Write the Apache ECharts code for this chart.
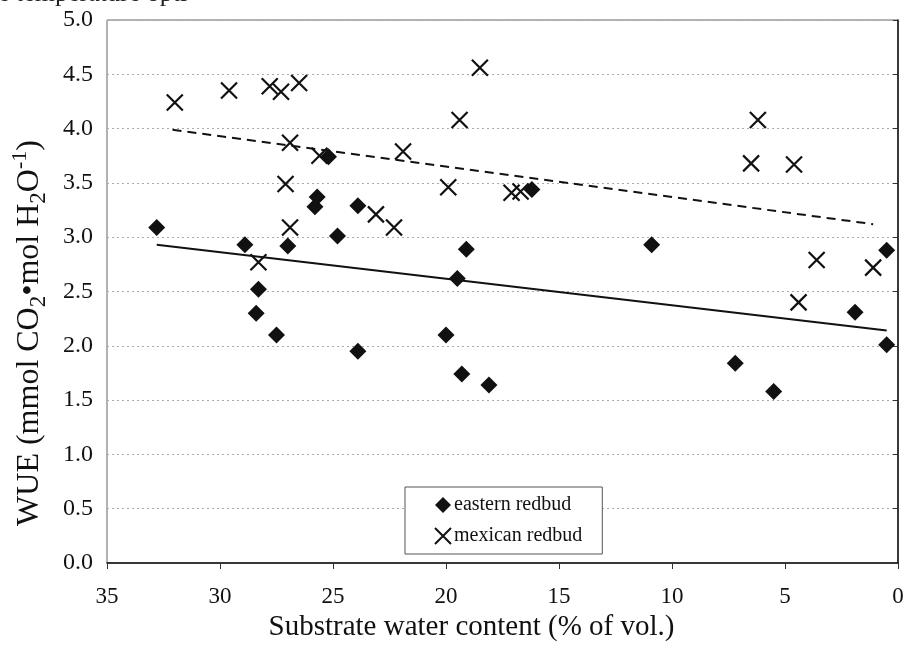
<!DOCTYPE html>
<html>
<head>
<meta charset="utf-8">
<script src="https://cdn.jsdelivr.net/npm/echarts@6/dist/echarts.min.js"></script>
<style>
  html, body { margin: 0; padding: 0; background: #fff; }
  #chart { width: 909px; height: 646px; }
</style>
</head>
<body>
<div id="chart"></div>
<script>
// eastern redbud: [water content, WUE]
const easternData = [
  [32.8, 3.09], [28.9, 2.93], [28.3, 2.52], [28.4, 2.30], [27.5, 2.10],
  [27.0, 2.92], [25.8, 3.28], [25.7, 3.37], [25.2, 3.74], [24.8, 3.01],
  [23.9, 3.29], [23.9, 1.95], [19.5, 2.62], [19.1, 2.89], [20.0, 2.10],
  [19.3, 1.74], [18.1, 1.64], [16.2, 3.44], [10.9, 2.93], [7.2, 1.84],
  [5.5, 1.58], [1.9, 2.31], [0.5, 2.01], [0.5, 2.88]
];
// mexican redbud
const mexicanData = [
  [32.0, 4.24], [29.6, 4.35], [27.8, 4.39], [27.3, 4.34], [26.5, 4.42],
  [26.9, 3.87], [27.1, 3.49], [26.9, 3.09], [28.3, 2.77], [25.6, 3.75],
  [23.1, 3.21], [22.3, 3.09], [21.9, 3.79], [19.9, 3.46], [19.4, 4.08],
  [18.5, 4.56], [17.1, 3.41], [16.7, 3.42], [6.5, 3.68], [6.2, 4.08],
  [4.6, 3.67], [3.6, 2.79], [4.4, 2.40], [1.1, 2.72]
];
// trend lines (end points)
const easternTrend = [[32.8, 2.93], [0.5, 2.14]];
const mexicanTrend = [[32.1, 3.99], [1.1, 3.12]];

const serif = '"Liberation Serif", "DejaVu Serif", serif';
const crossPath = 'path://M0,0L10,10M10,0L0,10';

const chart = echarts.init(document.getElementById('chart'));
chart.setOption({
  backgroundColor: '#fff',
  animation: false,
  textStyle: { fontFamily: serif, color: '#111' },
  graphic: [
    {
      type: 'text', left: -2, top: -19,
      style: { text: 'e temperature opti', font: '26px ' + serif, fill: '#222' }
    },
    {
      // y axis title with sub/superscripts
      type: 'text', x: 30, y: 333, rotation: Math.PI / 2,
      style: {
        text: '{m|WUE (mmol CO}{sub|2}{m|•mol H}{sub|2}{m|O}{sup|-1}{m|)}',
        align: 'center', verticalAlign: 'middle', fill: '#111',
        fontFamily: serif, fontSize: 32,
        rich: {
          m: { fontFamily: serif, fontSize: 32, lineHeight: 41, verticalAlign: 'middle' },
          sub: { fontFamily: serif, fontSize: 23, lineHeight: 21, verticalAlign: 'bottom' },
          sup: { fontFamily: serif, fontSize: 22, lineHeight: 20, verticalAlign: 'top' }
        }
      }
    }
  ],
  grid: {
    left: 107, right: 11, top: 20, bottom: 83,
    containLabel: false, outerBoundsMode: 'none',
    show: true, borderColor: '#666', borderWidth: 1
  },
  legend: {
    orient: 'vertical', left: 405, top: 487,
    backgroundColor: '#fff', borderColor: '#555', borderWidth: 1,
    padding: [8, 20, 8, 29], itemGap: 11, itemWidth: 16, itemHeight: 16,
    textStyle: { fontFamily: serif, fontSize: 20, color: '#111', padding: [0, 0, 0, -2] },
    data: [
      { name: 'eastern redbud', icon: 'diamond', itemStyle: { color: '#111', opacity: 1 } },
      { name: 'mexican redbud', icon: crossPath,
        itemStyle: { color: 'transparent', borderColor: '#111', borderWidth: 2 } }
    ]
  },
  xAxis: {
    type: 'value', min: 0, max: 35, interval: 5, inverse: true,
    name: 'Substrate water content (% of vol.)', nameLocation: 'middle', nameGap: 44,
    nameTextStyle: { fontFamily: serif, fontSize: 29, color: '#111', padding: [0, 62, 0, 0] },
    axisLine: { lineStyle: { color: '#111', width: 1.5 } },
    axisTick: { show: true, inside: false, length: 6, lineStyle: { color: '#333' } },
    axisLabel: { fontFamily: serif, fontSize: 23, color: '#111', margin: 22 },
    splitLine: { show: false }
  },
  yAxis: {
    type: 'value', min: 0, max: 5, interval: 0.5,
    axisLine: { show: true, lineStyle: { color: '#111', width: 1.5 } },
    axisTick: { show: true, length: 5, lineStyle: { color: '#333' } },
    axisLabel: {
      fontFamily: serif, fontSize: 24, color: '#111', margin: 14,
      formatter: v => v.toFixed(1)
    },
    splitLine: { show: true, lineStyle: { color: '#aaa', type: [2, 3], width: 1 } }
  },
  series: [
    {
      name: 'eastern redbud', type: 'scatter', data: easternData,
      symbol: 'diamond', symbolSize: 17, itemStyle: { color: '#111', opacity: 1 }, z: 3
    },
    {
      name: 'mexican redbud', type: 'scatter', data: mexicanData,
      symbol: crossPath, symbolSize: 16,
      itemStyle: { color: 'transparent', borderColor: '#111', borderWidth: 2.2, opacity: 1 }, z: 3
    },
    {
      name: 'eastern trend', type: 'line', data: easternTrend, symbol: 'none',
      lineStyle: { color: '#111', width: 2 }, silent: true, z: 2
    },
    {
      name: 'mexican trend', type: 'line', data: mexicanTrend, symbol: 'none',
      lineStyle: { color: '#111', width: 2, type: [9, 6] }, silent: true, z: 2
    }
  ]
});
</script>
</body>
</html>
